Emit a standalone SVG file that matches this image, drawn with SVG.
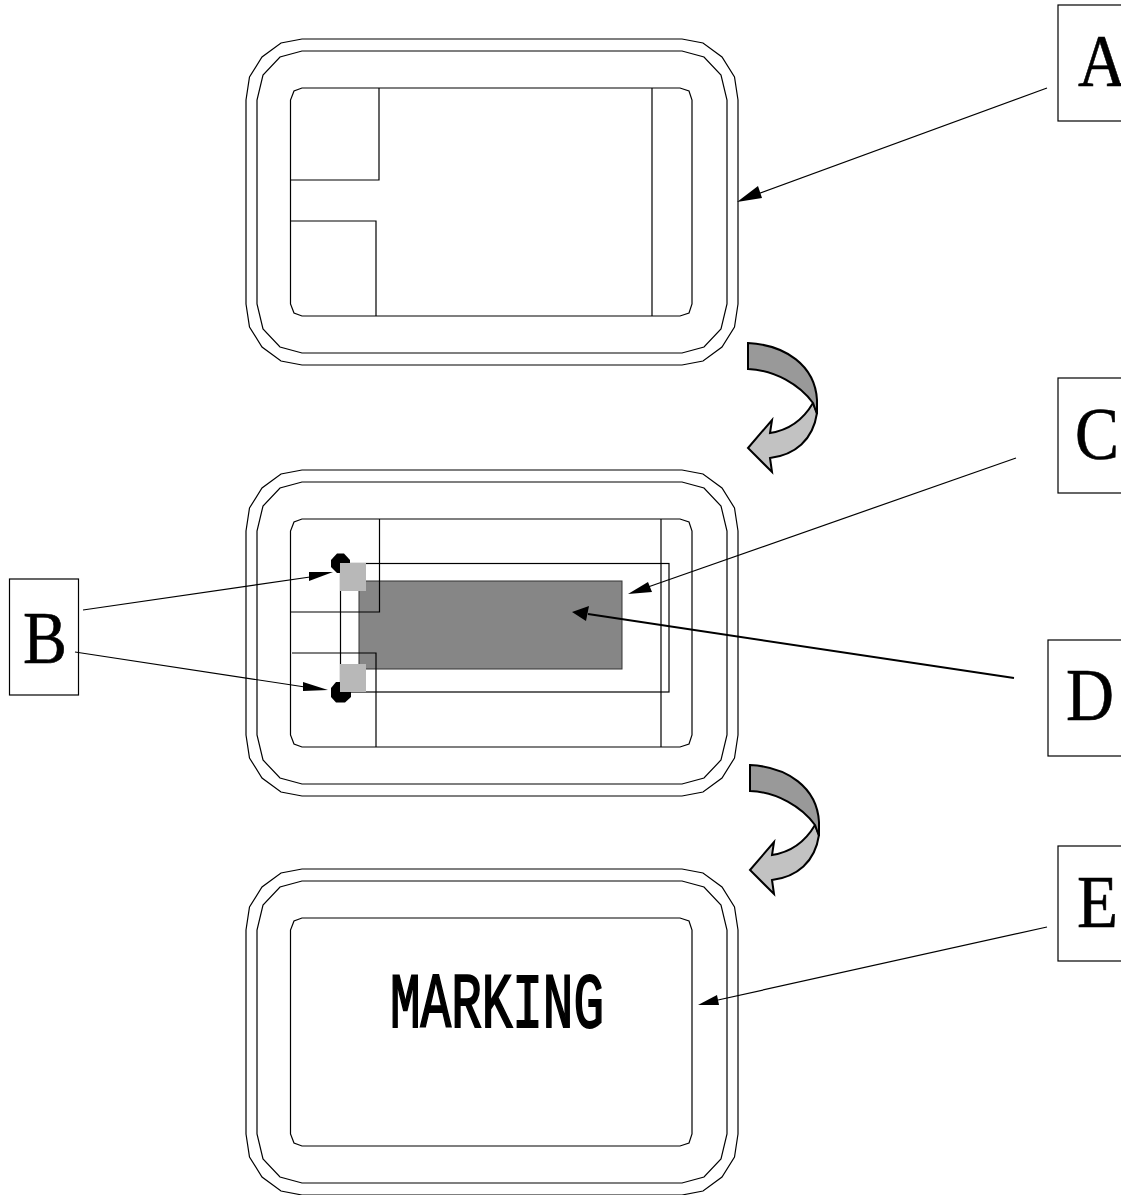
<svg xmlns="http://www.w3.org/2000/svg" width="1121" height="1195" viewBox="0 0 1121 1195">
<style>
.l{fill:none;stroke:#000;stroke-width:1.2}
.box{fill:#fff;stroke:#000;stroke-width:1.2}
.t{font-family:"Liberation Serif","Times New Roman",serif;font-size:73px;fill:#000;stroke:#000;stroke-width:.6}
.ar{fill:none;stroke:#000;stroke-width:1.2}
.hd{fill:#000;stroke:none}
.cd{fill:#999;stroke:#000;stroke-width:2;stroke-linejoin:miter}
.cl{fill:#c2c2c2;stroke:#000;stroke-width:2;stroke-linejoin:miter}
</style>
<defs>
<g id="frame">
<path class="l" d="M302,39H682L703,43L722,57L734.500,77L738,100V304L734.500,327L722,347L703,361L682,365H302L281,361L262,347L249.500,327L246,304V100L249.500,77L262,57L281,43Z"/>
<path class="l" d="M302,51H682L704,57L721,75L727,100V304L721,329L704,347L682,353H302L280,347L263,329L257,304V100L263,75L280,57Z"/>
<path class="l" d="M302,88H680L689,91L692,100V304L689,313L680,316H302L294,313L290.500,304V100L294,91Z"/>
</g>
<g id="curve">
<path class="cl" d="M813,403C803,420 790,430 770,433L772,420L748,448L772,472L770,458C795,455 813,440 817,413Z"/>
<path class="cd" d="M748,343C785,345 815,365 817,400L817,414L813,403C800,385 775,370 748,369Z"/>
</g>
</defs>
<g id="frame-top">
<use href="#frame"/>
<path class="l" d="M379,88V180H290.500M290.500,221H376V316M652,88V316"/>
</g>
<g id="frame-middle">
<use href="#frame" y="431"/>
<path d="M337,553.500H344L350,560V567L344,573H337L331,567V560Z" fill="#000"/>
<path d="M336,682H345L351,688V697L345,702.500H336L331,697V688Z" fill="#000"/>
<rect x="359" y="581" width="263" height="88" fill="#868686" stroke="#333" stroke-width="1"/>
<path class="l" d="M379.500,519V612H290.500M292,653H376V747M661,519V747"/>
<rect class="l" x="340.500" y="563.500" width="328.500" height="128.500"/>
<rect x="340" y="563" width="26" height="28" fill="#b8b8b8"/>
<rect x="340" y="664" width="26" height="28" fill="#b8b8b8"/>
</g>
<g id="frame-bottom">
<use href="#frame" y="830"/>
<text x="390" y="1027" textLength="214" lengthAdjust="spacingAndGlyphs" style="font-family:'Liberation Mono',monospace;font-size:78px;stroke:#000;stroke-width:2" fill="#000">MARKING</text>
</g>
<g id="curve-1"><use href="#curve"/></g>
<g id="curve-2"><use href="#curve" x="2" y="422"/></g>
<g id="label-a"><rect class="box" x="1058" y="5" width="80" height="116"/><text class="t" x="1078" y="86" textLength="48" lengthAdjust="spacingAndGlyphs">A</text></g>
<g id="label-b"><rect class="box" x="9.500" y="579" width="69" height="116"/><text class="t" x="23" y="663" textLength="44" lengthAdjust="spacingAndGlyphs">B</text></g>
<g id="label-c"><rect class="box" x="1058" y="378" width="80" height="115"/><text class="t" x="1075" y="459" textLength="44" lengthAdjust="spacingAndGlyphs">C</text></g>
<g id="label-d"><rect class="box" x="1048" y="640" width="90" height="116"/><text class="t" x="1066" y="720" textLength="48" lengthAdjust="spacingAndGlyphs">D</text></g>
<g id="label-e"><rect class="box" x="1058" y="846" width="80" height="115"/><text class="t" x="1077" y="927" textLength="41" lengthAdjust="spacingAndGlyphs">E</text></g>
<g id="connectors">
<path class="ar" d="M1047,88L755,195"/><path class="hd" d="M737,202L758,186L762,198Z"/>
<path class="ar" d="M1016,458L648,587"/><path class="hd" d="M628,594L648,582L652,592Z"/>
<path class="ar" d="M1014,678L588,614" style="stroke-width:2"/><path class="hd" d="M572,612L589,606L586,621Z"/>
<path class="ar" d="M83,610L310,577"/><path class="hd" d="M333,572L309,572L309,581Z"/>
<path class="ar" d="M75,652L305,687"/><path class="hd" d="M328,690L303,682L303,691Z"/>
<path class="ar" d="M1047,927L718,1000"/><path class="hd" d="M698,1005L717,995L719,1005Z"/>
</g>
</svg>
